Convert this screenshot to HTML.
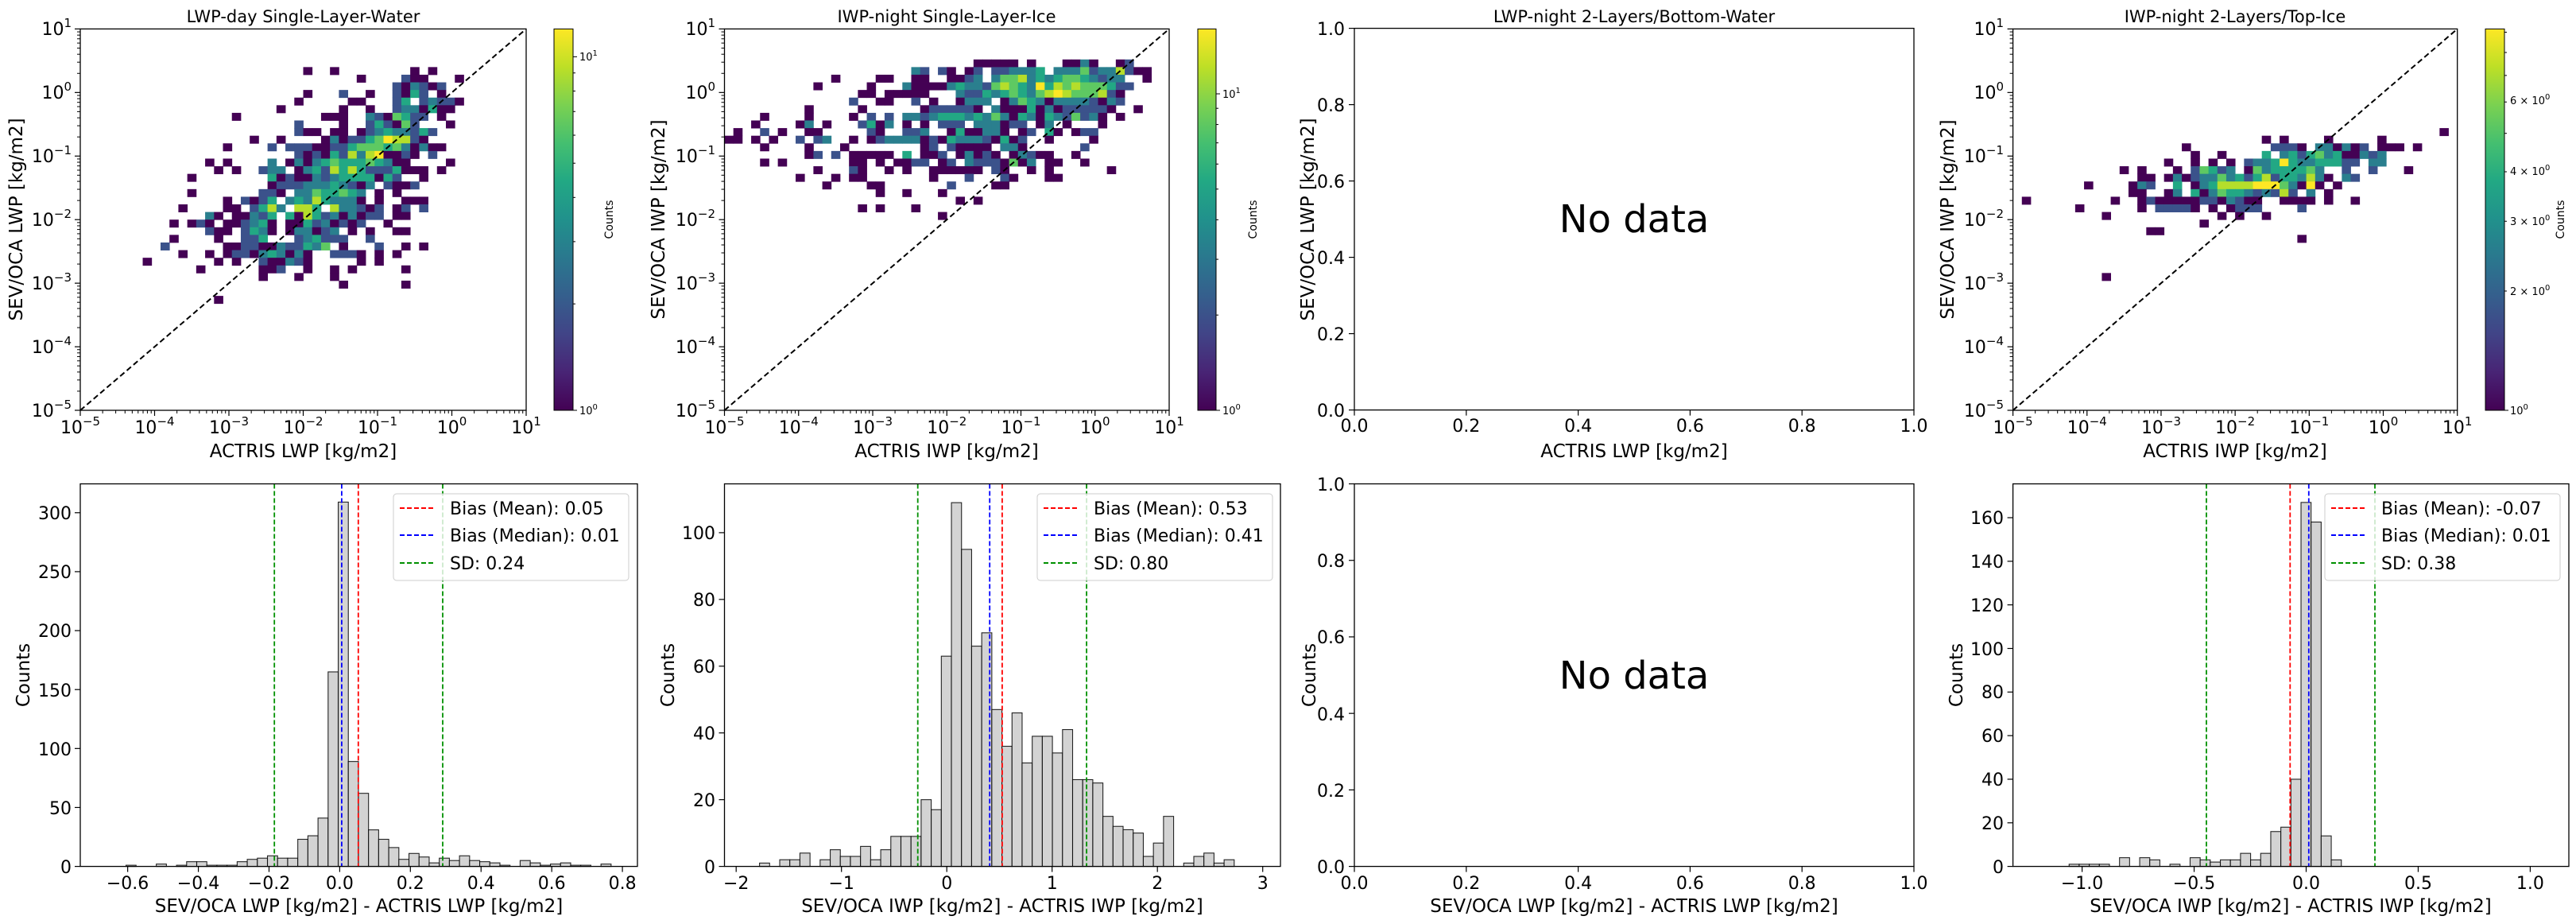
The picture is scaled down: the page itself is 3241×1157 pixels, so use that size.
<!DOCTYPE html>
<html><head><meta charset="utf-8"><style>html,body{margin:0;padding:0;background:#fff}svg{display:block}</style></head>
<body>
<svg id="s" xmlns="http://www.w3.org/2000/svg" width="3241" height="1157" font-family="'DejaVu Sans','Liberation Sans',sans-serif">
<defs><linearGradient id="vir" x1="0" y1="1" x2="0" y2="0">
<stop offset="0" stop-color="#440154"/><stop offset="0.1" stop-color="#482475"/><stop offset="0.2" stop-color="#414487"/><stop offset="0.3" stop-color="#355f8d"/><stop offset="0.4" stop-color="#2a788e"/><stop offset="0.5" stop-color="#21918c"/><stop offset="0.6" stop-color="#22a884"/><stop offset="0.7" stop-color="#44bf70"/><stop offset="0.8" stop-color="#7ad151"/><stop offset="0.9" stop-color="#bddf26"/><stop offset="1" stop-color="#fde725"/></linearGradient></defs>
<rect width="3241" height="1157" fill="#fff"/>
<g id="dyn"></g>
<g id="txt" fill="#000">
<text x="381.5" y="28" font-size="21" text-anchor="middle">LWP-day Single-Layer-Water</text>
<text x="1191" y="28" font-size="21" text-anchor="middle">IWP-night Single-Layer-Ice</text>
<text x="2056" y="28" font-size="21" text-anchor="middle">LWP-night 2-Layers/Bottom-Water</text>
<text x="2812" y="28" font-size="21" text-anchor="middle">IWP-night 2-Layers/Top-Ice</text>
<text x="381.5" y="575" font-size="23" text-anchor="middle">ACTRIS LWP [kg/m2]</text>
<text x="1191" y="575" font-size="23" text-anchor="middle">ACTRIS IWP [kg/m2]</text>
<text x="2056" y="575" font-size="23" text-anchor="middle">ACTRIS LWP [kg/m2]</text>
<text x="2812" y="575" font-size="23" text-anchor="middle">ACTRIS IWP [kg/m2]</text>
<text x="451.5" y="1147" font-size="23" text-anchor="middle">SEV/OCA LWP [kg/m2] - ACTRIS LWP [kg/m2]</text>
<text x="1261" y="1147" font-size="23" text-anchor="middle">SEV/OCA IWP [kg/m2] - ACTRIS IWP [kg/m2]</text>
<text x="2056" y="1147" font-size="23" text-anchor="middle">SEV/OCA LWP [kg/m2] - ACTRIS LWP [kg/m2]</text>
<text x="2882" y="1147" font-size="23" text-anchor="middle">SEV/OCA IWP [kg/m2] - ACTRIS IWP [kg/m2]</text>
<text transform="translate(28,276) rotate(-90)" font-size="23" text-anchor="middle">SEV/OCA LWP [kg/m2]</text>
<text transform="translate(836,276) rotate(-90)" font-size="23" text-anchor="middle">SEV/OCA IWP [kg/m2]</text>
<text transform="translate(1653,276) rotate(-90)" font-size="23" text-anchor="middle">SEV/OCA LWP [kg/m2]</text>
<text transform="translate(2458,276) rotate(-90)" font-size="23" text-anchor="middle">SEV/OCA IWP [kg/m2]</text>
<text transform="translate(37,849) rotate(-90)" font-size="23" text-anchor="middle">Counts</text>
<text transform="translate(848,849) rotate(-90)" font-size="23" text-anchor="middle">Counts</text>
<text transform="translate(1655,849) rotate(-90)" font-size="23" text-anchor="middle">Counts</text>
<text transform="translate(2469,849) rotate(-90)" font-size="23" text-anchor="middle">Counts</text>
<text transform="translate(771,276) rotate(-90)" font-size="14" text-anchor="middle">Counts</text>
<text transform="translate(1581,276) rotate(-90)" font-size="14" text-anchor="middle">Counts</text>
<text transform="translate(3226,276) rotate(-90)" font-size="14" text-anchor="middle">Counts</text>
<g font-size="13">
<text x="729" y="76">10<tspan dy="-6" font-size="10">1</tspan></text>
<text x="729" y="521">10<tspan dy="-6" font-size="10">0</tspan></text>
<text x="1538" y="123">10<tspan dy="-6" font-size="10">1</tspan></text>
<text x="1538" y="521">10<tspan dy="-6" font-size="10">0</tspan></text>
<text x="3158" y="131">6 × 10<tspan dy="-6" font-size="10">0</tspan></text>
<text x="3158" y="220">4 × 10<tspan dy="-6" font-size="10">0</tspan></text>
<text x="3158" y="283">3 × 10<tspan dy="-6" font-size="10">0</tspan></text>
<text x="3158" y="371">2 × 10<tspan dy="-6" font-size="10">0</tspan></text>
<text x="3158" y="521">10<tspan dy="-6" font-size="10">0</tspan></text>
</g>
<g font-size="22" text-anchor="middle">
<text x="101" y="545">10<tspan dy="-10" font-size="15">−5</tspan></text>
<text x="194.5" y="545">10<tspan dy="-10" font-size="15">−4</tspan></text>
<text x="288" y="545">10<tspan dy="-10" font-size="15">−3</tspan></text>
<text x="381.5" y="545">10<tspan dy="-10" font-size="15">−2</tspan></text>
<text x="475" y="545">10<tspan dy="-10" font-size="15">−1</tspan></text>
<text x="568.5" y="545">10<tspan dy="-10" font-size="15">0</tspan></text>
<text x="662" y="545">10<tspan dy="-10" font-size="15">1</tspan></text>
<text x="911.5" y="545">10<tspan dy="-10" font-size="15">−5</tspan></text>
<text x="1004.8" y="545">10<tspan dy="-10" font-size="15">−4</tspan></text>
<text x="1098" y="545">10<tspan dy="-10" font-size="15">−3</tspan></text>
<text x="1191.3" y="545">10<tspan dy="-10" font-size="15">−2</tspan></text>
<text x="1284.5" y="545">10<tspan dy="-10" font-size="15">−1</tspan></text>
<text x="1377.8" y="545">10<tspan dy="-10" font-size="15">0</tspan></text>
<text x="1471" y="545">10<tspan dy="-10" font-size="15">1</tspan></text>
<text x="2532.6" y="545">10<tspan dy="-10" font-size="15">−5</tspan></text>
<text x="2625.8" y="545">10<tspan dy="-10" font-size="15">−4</tspan></text>
<text x="2719" y="545">10<tspan dy="-10" font-size="15">−3</tspan></text>
<text x="2812.1" y="545">10<tspan dy="-10" font-size="15">−2</tspan></text>
<text x="2905.3" y="545">10<tspan dy="-10" font-size="15">−1</tspan></text>
<text x="2998.5" y="545">10<tspan dy="-10" font-size="15">0</tspan></text>
<text x="3091.7" y="545">10<tspan dy="-10" font-size="15">1</tspan></text>
</g>
<g font-size="22" text-anchor="end">
<text x="90" y="524">10<tspan dy="-10" font-size="15">−5</tspan></text>
<text x="90" y="444">10<tspan dy="-10" font-size="15">−4</tspan></text>
<text x="90" y="364">10<tspan dy="-10" font-size="15">−3</tspan></text>
<text x="90" y="284">10<tspan dy="-10" font-size="15">−2</tspan></text>
<text x="90" y="204">10<tspan dy="-10" font-size="15">−1</tspan></text>
<text x="90" y="124">10<tspan dy="-10" font-size="15">0</tspan></text>
<text x="90" y="44">10<tspan dy="-10" font-size="15">1</tspan></text>
<text x="900" y="524">10<tspan dy="-10" font-size="15">−5</tspan></text>
<text x="900" y="444">10<tspan dy="-10" font-size="15">−4</tspan></text>
<text x="900" y="364">10<tspan dy="-10" font-size="15">−3</tspan></text>
<text x="900" y="284">10<tspan dy="-10" font-size="15">−2</tspan></text>
<text x="900" y="204">10<tspan dy="-10" font-size="15">−1</tspan></text>
<text x="900" y="124">10<tspan dy="-10" font-size="15">0</tspan></text>
<text x="900" y="44">10<tspan dy="-10" font-size="15">1</tspan></text>
<text x="2521" y="524">10<tspan dy="-10" font-size="15">−5</tspan></text>
<text x="2521" y="444">10<tspan dy="-10" font-size="15">−4</tspan></text>
<text x="2521" y="364">10<tspan dy="-10" font-size="15">−3</tspan></text>
<text x="2521" y="284">10<tspan dy="-10" font-size="15">−2</tspan></text>
<text x="2521" y="204">10<tspan dy="-10" font-size="15">−1</tspan></text>
<text x="2521" y="124">10<tspan dy="-10" font-size="15">0</tspan></text>
<text x="2521" y="44">10<tspan dy="-10" font-size="15">1</tspan></text>
</g>
<g font-size="22" text-anchor="middle">
<text x="1704" y="543">0.0</text><text x="1844.8" y="543">0.2</text><text x="1985.6" y="543">0.4</text><text x="2126.4" y="543">0.6</text><text x="2267.2" y="543">0.8</text><text x="2408" y="543">1.0</text>
<text x="1704" y="1118">0.0</text><text x="1844.8" y="1118">0.2</text><text x="1985.6" y="1118">0.4</text><text x="2126.4" y="1118">0.6</text><text x="2267.2" y="1118">0.8</text><text x="2408" y="1118">1.0</text>
</g>
<g font-size="22" text-anchor="end">
<text x="1692" y="524">0.0</text><text x="1692" y="428">0.2</text><text x="1692" y="332">0.4</text><text x="1692" y="236">0.6</text><text x="1692" y="140">0.8</text><text x="1692" y="44">1.0</text>
<text x="1692" y="1098">0.0</text><text x="1692" y="1002">0.2</text><text x="1692" y="906">0.4</text><text x="1692" y="809">0.6</text><text x="1692" y="713">0.8</text><text x="1692" y="617">1.0</text>
</g>
<text x="2056" y="292" font-size="48" text-anchor="middle">No data</text>
<text x="2056" y="866" font-size="48" text-anchor="middle">No data</text>
<g font-size="22" text-anchor="middle">
<text x="160.6" y="1118">−0.6</text><text x="249.5" y="1118">−0.4</text><text x="338.5" y="1118">−0.2</text><text x="427.4" y="1118">0.0</text><text x="516.3" y="1118">0.2</text><text x="605.2" y="1118">0.4</text><text x="694.2" y="1118">0.6</text><text x="783.1" y="1118">0.8</text>
<text x="926.2" y="1118">−2</text><text x="1058.7" y="1118">−1</text><text x="1191.2" y="1118">0</text><text x="1323.7" y="1118">1</text><text x="1456.2" y="1118">2</text><text x="1588.7" y="1118">3</text>
<text x="2619.6" y="1118">−1.0</text><text x="2760.5" y="1118">−0.5</text><text x="2901.5" y="1118">0.0</text><text x="3042.5" y="1118">0.5</text><text x="3183.4" y="1118">1.0</text>
</g>
<g font-size="22" text-anchor="end">
<text x="90" y="1098">0</text><text x="90" y="1024">50</text><text x="90" y="950">100</text><text x="90" y="876">150</text><text x="90" y="801">200</text><text x="90" y="727">250</text><text x="90" y="653">300</text>
<text x="900" y="1098">0</text><text x="900" y="1014">20</text><text x="900" y="930">40</text><text x="900" y="846">60</text><text x="900" y="762">80</text><text x="900" y="678">100</text>
<text x="2521" y="1098">0</text><text x="2521" y="1043">20</text><text x="2521" y="988">40</text><text x="2521" y="933">60</text><text x="2521" y="878">80</text><text x="2521" y="824">100</text><text x="2521" y="769">120</text><text x="2521" y="714">140</text><text x="2521" y="659">160</text>
</g>
</g>
<g id="leg"></g>
<g font-size="22" fill="#000">
<text x="566" y="647">Bias (Mean): 0.05</text><text x="566" y="681">Bias (Median): 0.01</text><text x="566" y="716">SD: 0.24</text>
<text x="1376" y="647">Bias (Mean): 0.53</text><text x="1376" y="681">Bias (Median): 0.41</text><text x="1376" y="716">SD: 0.80</text>
<text x="2996" y="647">Bias (Mean): -0.07</text><text x="2996" y="681">Bias (Median): 0.01</text><text x="2996" y="716">SD: 0.38</text>
</g>
</svg>
<script>
const NS='http://www.w3.org/2000/svg';
const G=document.getElementById('dyn'), LG=document.getElementById('leg');
function el(t,a,p){const e=document.createElementNS(NS,t);for(const k in a)e.setAttribute(k,a[k]);(p||G).appendChild(e);return e;}
const C={1:'#440154',2:'#3b528b',3:'#2a7f8e',4:'#22a884',5:'#5ec962',6:'#b5de2b',7:'#fde725'};
function heat(L,R,T,B,data){const cw=(R-L)/50,ch=(B-T)/50;
 data.trim().split(/\s*;\s*/).forEach(r=>{if(!r)return;const[ri,cs]=r.split(':');
  cs.split(',').forEach(p=>{const[c,v]=p.split('.');let a,b;if(c.includes('-')){[a,b]=c.split('-').map(Number);}else{a=b=Number(c);}
   for(let k=a;k<=b;k++)el('rect',{x:L+k*cw,y:T+Number(ri)*ch,width:cw+0.4,height:ch+0.4,fill:C[v]});});});}
function line(x1,y1,x2,y2,st,w,dash,p){const a={x1,y1,x2,y2,stroke:st,'stroke-width':w};if(dash)a['stroke-dasharray']=dash;return el('line',a,p);}
function frame(L,R,T,B){el('rect',{x:L,y:T,width:R-L,height:B-T,fill:'none',stroke:'#000','stroke-width':1.3});}
function logax(L,R,T,B){const dx=(R-L)/6,dy=(B-T)/6;
 for(let k=0;k<=6;k++){line(L+k*dx,B,L+k*dx,B+7,'#000',1.2);line(L-7,B-k*dy,L,B-k*dy,'#000',1.2);
  if(k<6)for(let m=2;m<10;m++){const f=Math.log10(m);line(L+(k+f)*dx,B,L+(k+f)*dx,B+4,'#000',1);line(L-4,B-(k+f)*dy,L,B-(k+f)*dy,'#000',1);}}
 line(L,B,R,T,'#000',2,'7,4');}
function cbar(x,w,T,B,dec,ticks){el('rect',{x,y:T,width:w,height:B-T,fill:'url(#vir)',stroke:'#000','stroke-width':1});
 ticks.forEach(v=>{const y=B-Math.log10(v)*dec;if(y>=T-0.5){const L=(v===1||v===10)?5:3;line(x+w,y,x+w+L,y,'#000',1);}});}
function hist(L,R,T,B,x0,ppu,start,bw,ppc,counts,xt,yt){
 counts.forEach((c,i)=>{const xa=x0+(start+i*bw)*ppu,xb=x0+(start+(i+1)*bw)*ppu;
  el('rect',{x:xa,y:B-c*ppc,width:xb-xa,height:c*ppc,fill:'#d3d3d3',stroke:'#000','stroke-width':1.1,'stroke-opacity':0.85});});
 xt.forEach(v=>line(x0+v*ppu,B,x0+v*ppu,B+7,'#000',1.2));
 yt.forEach(v=>line(L-7,B-v*ppc,L,B-v*ppc,'#000',1.2));}
function vlines(T,B,arr){arr.forEach(([x,c])=>line(x,T,x,B,c,1.8,'6,3'));}
function legend(x){el('rect',{x,y:621,width:296,height:109,rx:4,fill:'#fff','fill-opacity':0.8,stroke:'#ccc','stroke-width':1},LG);
 [['#ff0000',639],['#0000ff',673],['#009000',708]].forEach(([c,y])=>line(x+8,y,x+50,y,c,2,'6,3',LG));}

const P1=`5:25.1,28.1,37.1,39.1;6:31.1,36.2,37-38.1,42.1;7:35.2,36.1,37.3,38.2,39.1,40.2;8:25.1,29.2,32.1,35.2,36.1,37.4,38.2,40.1;
9:24.1,30-31.1,35.2,36.4,38.2,39.3,40.2,41.2,42.1;10:22.1,29.1,32.1,35.2,36.3,37.3,38.1,39.4,40.1,41.1;
11:17.1,27-29.1,32.3,33.2,34.1,35.5,36.4,37.2,38.2,40.1;12:24.2,29.1,32.2,33.4,34.2,35.1,36.5,37.2,41.1;
13:24.2,25-26.1,28-29.1,31.1,32.2,33.3,34.4,35.3,36.3,37.2,38.4,39.2;14:19.1,22.1,27.1,28.3,29.1,30-31.2,32.4,33.5,34.7,35-36.6,37.2,38.1;
15:16.1,21.2,23-25.2,26-27.1,28-29.2,30.4,31-33.5,34.4,35.5,36.3,37.1,38.3,39-40.1;16:24.2,25.1,26.2,27.1,28.4,29.2,30.6,31.3,32.6,33.7,34-35.1,36.2,37.1,39.2;
17:14.1,16.1,21.3,23.1,24.3,25.1,26.3,27.4,28.5,29-31.4,32.5,33.4,34.3,35-36.1,41.1;18:15.1,17.1,20.2,21-22.3,24.1,25.3,26.4,27.2,28.6,29.4,30.6,31.4,32-34.2,35.4,36-38.1,40.1;
19:12.1,21.4,22.1,23.2,24-25.1,26.3,27.2,28.3,29-32.4,33.1,34.4,35.2,38.1;20:21.1,22-24.2,25-27.3,28.4,29.3,30.2,31.1,32.3,34.2,35-36.1,37.2;
21:12.1,20-21.2,22.1,24-25.3,26.5,27-28.4,29.5,30.4,31.3,33.1,35.1;22:16.1,18.2,19.1,20.2,21.4,23.3,24.4,25.3,26.6,27.4,28-30.3,31.1,33.1,36-38.1;
23:11.1,16-17.1,19.2,20.4,21.6,22.3,24-25.6,26.4,28.6,29-30.3,31.2,32.1,33.2,35.1,36.2,38.2;24:14.3,15.1,17-18.1,19.3,20.2,21.4,23.4,24.1,25.6,26.4,27.2,28.3,29.1,30.3,31.1,32-33.2,35-36.1;
25:10.1,12.1,13.2,14.1,16-17.1,18.2,19.3,20.4,21.1,23-24.1,25.4,26.2,27.3,28.1,29.2,30.1,31.2,34.1;26:14.2,15-16.1,18.2,19.4,20.3,21.1,23.1,24-25.3,26.1,27.2,28.3,30.1,32.1,35-36.1;
27:10.1,15.1,18-19.2,20.4,24.2,25.3,26.4,27.2,28-29.2,32.2;28:9.2,16-17.1,18-19.2,20-21.1,22.3,23-24.2,25.4,26.3,27.5,29.1,33.2,36.1,38.1;
29:11.1,14.1,16.1,17-18.2,19.1,20.3,21.4,22.3,23.1,24.3,25.1,28-30.2,31.1,33.1,35.1;30:7.1,15.1,17.1,20.2,21-22.1,23.3,24.2,25.1,31.1,33.1;
31:13.1,20-21.1,22.2,25.1,28.1,30.1,36.1;32:20.1,24.1,28.1;33:29.1,36.1;35:15.1`;
const P2=`4:28-32.1,34.1,38-39.1,40.3,41.1,44.1,45.2;5:21.3,22.2,24.2,25.1,27.1,28.2,30-31.2,32-34.3,35.4,37-39.3,40.5,41.2,42-43.3,44.6,45.2,46-47.1;
6:12.1,17-18.1,21-22.1,25-26.1,27.2,28.3,30.3,31-32.5,33.6,34.3,35.4,36.3,37.4,38-39.5,40.4,41.3,42.2,43-44.3,47.1;
7:10.1,16.1,20.3,21-24.1,25.3,26.4,27-28.3,29.2,30.5,31.6,32.5,33.4,34.3,35.7,36.4,37.6,38.5,39.6,40-42.5,43.4,44-45.2;
8:15-16.1,18-22.1,26.3,27-28.2,29.4,30.3,31.4,32.5,33.4,34.3,35.5,36.6,37.7,38.6,39-41.5,42.6,43.2,44.1;
9:14.2,17-18.1,21.2,23.1,26.1,27-29.3,31.1,32.3,33.5,34.4,35.3,36.1,37-40.3,41.2,42.1,43.3,44.2;
10:9.1,15.1,22.1,23-27.2,28.1,30.3,31-33.1,34.4,35.1,36.3,37.1,38-42.2,43.1,46.1;
11:4.1,9.1,14.1,16.2,18.2,20-21.3,22.2,23.3,24-26.4,27.3,28.4,29.3,30.5,31.3,32.1,33.4,34.3,35.1,36.4,37.3,38.2,39.5,40.2,41.3,42.1,44.1;
12:3.1,8.1,9.3,11.1,15.2,16.4,17.1,18.3,20.1,22.1,24-26.2,28-30.3,31.1,32-33.2,35.1,36.3,38.1,42.1;
13:1.1,4.2,6.1,9-10.1,16.2,17.1,20-21.2,22.3,25.1,26.4,27-28.1,29-30.3,31.1,33.1,34.2,36.4,37.1,39.1,40-41.2;
14:0-1.1,3.1,5.1,8.2,10.2,11.3,14.1,16.1,17.2,18-21.3,22.1,23.2,24.1,25.4,26-28.3,29.2,30.1,31.4,32.1,33.2,36.1,41.1;
15:4.1,9.1,13.1,22.1,23.2,25.2,26-29.1,31-32.3,33.1,40.2;16:9.1,10.2,12.2,14-18.1,20.4,22-23.1,24.2,26.1,27.3,28.1,29.2,30.1,32.1,33.3,34.2,35-36.1,39.1;
17:4.1,6.1,14-15.1,17.1,19-20.1,21-22.2,24.1,25.2,27.3,28-30.2,31.1,32.5,33.1,34.3,36-37.1,40.1;18:10.1,14.2,15.1,18.1,20.1,23-28.1,30.2,31.1,34.1,36.1,43.1;
19:8.1,12.1,14-15.1,23.1,27.2,31.2,32.1,36-37.1;20:11.1,16-17.1,25.2,30-31.1;21:17.1,20.1,24.1;22:26.1,28.1;23:15.1,17.1,21.1;24:24.1`;
const P4=`13:48.1;14:28.1,30.1,35.1,41.1;15:19.1,29-31.2,32.1,34-35.3,36.1,37.3,38.1,39.2,41-43.1,45.1;
16:20.1,23.1,28.4,30.3,31.4,32.2,33.4,34.5,35.3,36.4,37-38.1,39.3,40.2,41.3;
17:17.1,20.1,22.1,24.1,26.2,27-28.3,29.4,30.7,31.4,32-33.3,34-36.4,37-38.2,40-41.3;
18:12.1,14.1,18.1,20.2,21.5,22.4,23.2,24.3,26.1,27.5,28.3,29-32.4,33.5,34.3,37.2,40.2,44.1;
19:14-15.1,17.1,18.3,19.1,20.2,21-22.3,23.5,24.3,25.4,26.2,27.4,28.6,29.2,30-31.4,32.3,33.6,34.3,35.1,37.3,38.2;
20:8.1,13.1,14.3,15.2,18.4,20.1,21.3,22.4,23-26.6,27-29.7,30.5,31.3,32.1,33.7,34.1,36.1;
21:13-14.1,17.1,18.3,20.4,21.1,22.3,23.5,24-25.4,26.3,27.2,28.3,29.2,30.6,31.2,33.3,35.1;
22:1.1,11.1,14.1,15.2,16-20.1,21-22.2,23.1,24.3,25.2,26-27.1,30-33.1,35.1,38.1;
23:7.1,14.1,16-19.2,20.1,22.1,24.1,25-27.2,32.2;24:10.1,23.1,25.1,28.1;25:21.1;26:15-16.1;27:32.1;32:10.1`;

const T=36.4,B=516,HT=608.5,HB=1089.6;
heat(101,662,T,B,P1); logax(101,662,T,B); frame(101,662,T,B);
heat(911.5,1471,T,B,P2); logax(911.5,1471,T,B); frame(911.5,1471,T,B);
heat(2532.6,3091.7,T,B,P4); logax(2532.6,3091.7,T,B); frame(2532.6,3091.7,T,B);
cbar(697,24,T,B,444.6,[1,2,3,4,5,6,7,8,9,10]);
cbar(1507,23,T,B,398,[1,2,3,4,5,6,7,8,9,10]);
cbar(3127,24,T,B,498.3,[1,2,3,4,5,6,7,8,9]);
frame(1704,2408,35.6,515.6); frame(1704,2408,HT,HB);
for(let k=0;k<=5;k++){const x=1704+k*140.8;line(x,515.6,x,522.6,'#000',1.2);line(x,HB,x,HB+7,'#000',1.2);
 line(1697,515.6-k*96,1704,515.6-k*96,'#000',1.2);line(1697,HB-k*96.22,1704,HB-k*96.22,'#000',1.2);}
hist(101,802,HT,HB,427.4,444.6,-0.662,0.0286,1.4827,
[0,0,1,0,0,2,0,1,4,4,1,1,1,4,6,7,9,7,7,23,26,41,165,309,89,62,31,23,16,6,11,8,3,7,5,9,5,4,3,1,0,5,3,1,2,3,1,1,0,2],
[-0.6,-0.4,-0.2,0,0.2,0.4,0.6,0.8],[0,50,100,150,200,250,300]);
vlines(HT,HB,[[345.2,'#009000'],[557,'#009000'],[429.9,'#0000ff'],[450.8,'#ff0000']]); frame(101,802,HT,HB);
hist(911.5,1611,HT,HB,1191.2,132.5,-1.874,0.0959,4.197,
[0,1,0,2,2,4,0,2,5,3,3,6,2,5,9,9,9,20,17,63,109,95,66,70,47,36,46,31,39,39,34,41,26,26,25,15,12,11,10,3,7,15,0,1,3,4,1,2,0,0],
[-2,-1,0,1,2,3],[0,20,40,60,80,100]);
vlines(HT,HB,[[1154.7,'#009000'],[1367.1,'#009000'],[1245.2,'#0000ff'],[1260.9,'#ff0000']]); frame(911.5,1611,HT,HB);
hist(2532.6,3232,HT,HB,2901.5,281.9,-1.193,0.045,2.741,
[0,0,0,1,1,1,1,0,4,0,4,3,0,1,0,4,3,2,3,3,6,3,6,16,18,40,167,158,14,3,0,0,0,0,0,0,0,0,0,0,0,0,0,0,0,0,0,0,0,0],
[-1,-0.5,0,0.5,1],[0,20,40,60,80,100,120,140,160]);
vlines(HT,HB,[[2776,'#009000'],[2988,'#009000'],[2904.8,'#0000ff'],[2881.3,'#ff0000']]); frame(2532.6,3232,HT,HB);
legend(495); legend(1305); legend(2925);
</script>
</body></html>
